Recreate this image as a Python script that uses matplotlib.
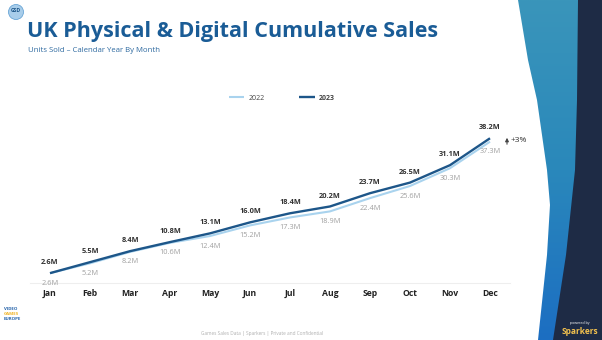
import matplotlib.pyplot as plt
import numpy as np
from matplotlib.patches import Polygon, Circle
from matplotlib.colors import LinearSegmentedColormap

plt.rcParams["font.family"] = ["Open Sans", "DejaVu Sans"]

months = ["Jan", "Feb", "Mar", "Apr", "May", "Jun", "Jul", "Aug", "Sep", "Oct", "Nov", "Dec"]
sales_2022 = [2.6, 5.2, 8.2, 10.6, 12.4, 15.2, 17.3, 18.9, 22.4, 25.6, 30.3, 37.3]
sales_2023 = [2.6, 5.5, 8.4, 10.8, 13.1, 16.0, 18.4, 20.2, 23.7, 26.5, 31.1, 38.2]

c22 = "#a9d3ee"
c23 = "#1d5689"

fig = plt.figure(figsize=(6.02, 3.4), dpi=100)
fig.patch.set_facecolor("white")

# background layer in pixel coordinates for the slide decoration
bg = fig.add_axes([0, 0, 1, 1], zorder=0)
bg.set_xlim(0, 602)
bg.set_ylim(340, 0)
bg.axis("off")

blue_pts = [(518, 0), (528, 60), (537, 100), (547, 170), (550, 205), (547, 255), (538, 340), (602, 340), (602, 0)]
blue = Polygon(blue_pts, closed=True, facecolor="none", edgecolor="none")
bg.add_patch(blue)
grad = np.linspace(0, 1, 256).reshape(-1, 1)
cmap = LinearSegmentedColormap.from_list("g", ["#3a95ba", "#2a88bb", "#1c6ec2"])
im = bg.imshow(grad, extent=(510, 602, 340, 0), cmap=cmap, aspect="auto", zorder=1)
im.set_clip_path(blue)

navy_pts = [(578, 0), (577, 100), (575, 170), (566, 255), (553, 340), (602, 340), (602, 0)]
bg.add_patch(Polygon(navy_pts, closed=True, facecolor="#1e2b45", edgecolor="none", zorder=2))

# logos / footer
bg.add_patch(Circle((16, 12), 7.5, facecolor="#a8cdea", edgecolor="#6aa6d6", lw=0.6, zorder=3))
bg.text(16, 11, "GSD", fontsize=3.6, fontweight="bold", color="#1d5689", ha="center", va="center", zorder=4)
bg.text(4, 309, "VIDEO", fontsize=3.2, fontweight="bold", color="#1f5fa8", va="center")
bg.text(4, 314, "GAMES", fontsize=3.2, fontweight="bold", color="#f0b323", va="center")
bg.text(4, 319, "EUROPE", fontsize=3.2, fontweight="bold", color="#1f5fa8", va="center")
bg.text(580, 323, "powered by", fontsize=2.6, color="white", ha="center", va="center", zorder=4)
bg.text(580, 331, "Sparkers", fontsize=6, fontweight="bold", color="#f2c14e", ha="center", va="center", zorder=4)
bg.text(262, 334, "Games Sales Data | Sparkers | Private and Confidential", fontsize=3.4,
        color="#b0b0b0", ha="center", va="center")

# titles
bg.text(27, 32, "UK Physical & Digital Cumulative Sales", fontsize=15.5, fontweight="bold",
        color="#1a5c96", va="center", ha="left")
bg.text(28, 50, "Units Sold \u2013 Calendar Year By Month", fontsize=5.6, color="#2f6aa0",
        va="center", ha="left")

# +3% annotation
bg.annotate("", xy=(507, 135), xytext=(507, 147),
            arrowprops=dict(arrowstyle="-|>", color="#444444", lw=0.8, mutation_scale=5))
bg.text(511, 141, "+3%", fontsize=6, color="#333333", va="center", ha="left")

# main chart
ax = fig.add_axes([30 / 602, 1 - 283 / 340, 480 / 602, 183 / 340], zorder=5)
ax.patch.set_alpha(0)
x = np.arange(len(months))
ax.plot(x, sales_2022, color=c22, lw=1.5, label="2022", solid_capstyle="butt")
ax.plot(x, sales_2023, color=c23, lw=1.7, label="2023", solid_capstyle="butt")

for xi, v in zip(x, sales_2023):
    ax.annotate(f"{v:.1f}M", (xi, v), xytext=(0, 7.5), textcoords="offset points",
                ha="center", va="center", fontsize=5.3, fontweight="bold", color="#333333")
for xi, v in zip(x, sales_2022):
    ax.annotate(f"{v:.1f}M", (xi, v), xytext=(0, -7.2), textcoords="offset points",
                ha="center", va="center", fontsize=5.3, color="#a0a0a0")

ax.set_xlim(-0.5, 11.5)
ax.set_ylim(0, 48.3)
ax.set_xticks(x)
ax.set_xticklabels(months, fontsize=6.2, fontweight="bold", color="#222222")
ax.set_yticks([])
ax.tick_params(axis="x", length=0, pad=4)
for s in ["top", "right", "left"]:
    ax.spines[s].set_visible(False)
ax.spines["bottom"].set_color("#eeeeee")
ax.spines["bottom"].set_linewidth(0.8)

leg = ax.legend(loc="center", bbox_to_anchor=(282 / 602, 1 - 98 / 340), bbox_transform=fig.transFigure,
                ncol=2, frameon=False, fontsize=5, handlelength=2.2, columnspacing=5, handletextpad=0.6)
for t in leg.get_texts():
    t.set_color("#444444")
leg.get_texts()[1].set_fontweight("bold")

fig.savefig("out.png", dpi=100)
